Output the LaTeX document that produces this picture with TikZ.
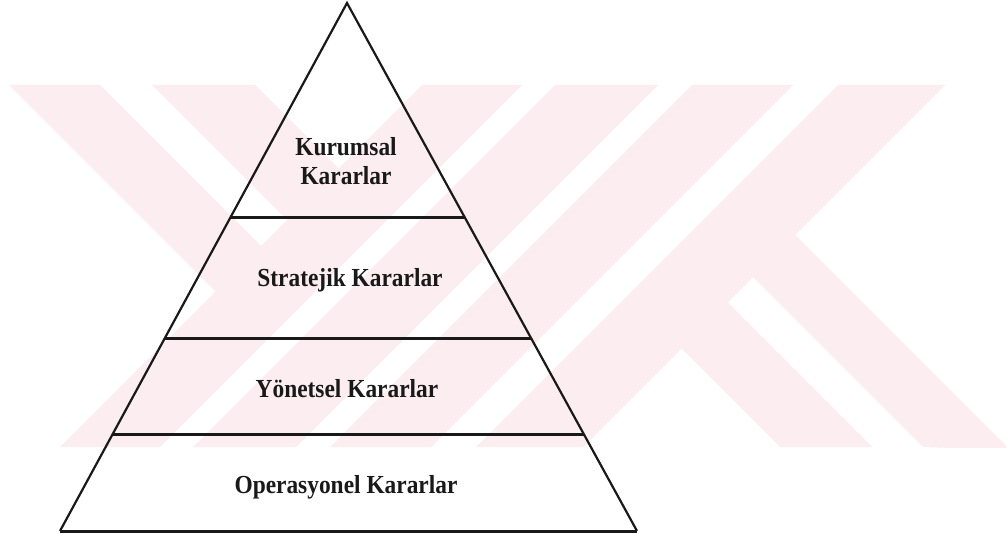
\documentclass[tikz,border=0pt]{standalone}
\usepackage{fontspec}
\setmainfont{Liberation Serif}
\newfontfamily\labfont{Liberation Serif}[FakeStretch=0.9]
\usetikzlibrary{calc}
\definecolor{wm}{RGB}{252,237,241}
\definecolor{ink}{RGB}{25,25,25}
\tikzset{
  side/.style={draw=ink, line width=2.2pt, line join=miter},
  tier/.style={draw=ink, line width=3pt},
  lab/.style={font=\labfont\bfseries\fontsize{26}{29}\selectfont, text=ink, inner sep=0pt, align=center},
  mark/.style={fill=wm}
}
\begin{document}
\begin{tikzpicture}[x=1pt,y=-1pt]
\useasboundingbox[fill=white] (0,0) rectangle (1006,534);
% watermark
\begin{scope}
\clip (0,85) rectangle (1006,447);
\fill[wm] (422,85) -- (522,85) -- (160,447) -- (60,447) -- cycle;
\fill[wm] (555,85) -- (658,85) -- (296,447) -- (193,447) -- cycle;
\fill[wm] (692,85) -- (793,85) -- (431,447) -- (330,447) -- cycle;
\fill[wm] (838,85) -- (945,85) -- (583,447) -- (476,447) -- cycle;
\fill[wm] (9,85) -- (100,85) -- (277.5,262.5) -- (232,308) -- cycle;
\fill[wm] (152,85) -- (255,85) -- (355,185) -- (303.5,236.5) -- cycle;
\fill[wm] (666.5,333.5) -- (712.5,287.5) -- (872,447) -- (780,447) -- cycle;
\fill[wm] (738,262) -- (780,220) -- (1010,450) -- (923,447) -- cycle;
\end{scope}
% pyramid
\coordinate (apex) at (347,3);
\coordinate (bl) at (60,531);
\coordinate (br) at (637,531);
\coordinate (l1a) at ($(apex)!0.407!(bl)$);
\coordinate (l1b) at ($(apex)!0.407!(br)$);
\coordinate (l2a) at ($(apex)!0.636!(bl)$);
\coordinate (l2b) at ($(apex)!0.636!(br)$);
\coordinate (l3a) at ($(apex)!0.818!(bl)$);
\coordinate (l3b) at ($(apex)!0.818!(br)$);
\draw[side] (bl) -- (apex) -- (br);
\draw[tier] (bl) -- (br);
\draw[tier] (l1a) -- (l1b);
\draw[tier] (l2a) -- (l2b);
\draw[tier] (l3a) -- (l3b);
% labels
\node[lab, anchor=base] (kur) at (346,185) {Kurumsal\\Kararlar};
\node[lab, anchor=base] (str) at (350,287) {Stratejik Kararlar};
\node[lab, anchor=base] (yon) at (347,397) {Yönetsel Kararlar};
\node[lab, anchor=base] (ope) at (346,493) {Operasyonel Kararlar};
\end{tikzpicture}
\end{document}
